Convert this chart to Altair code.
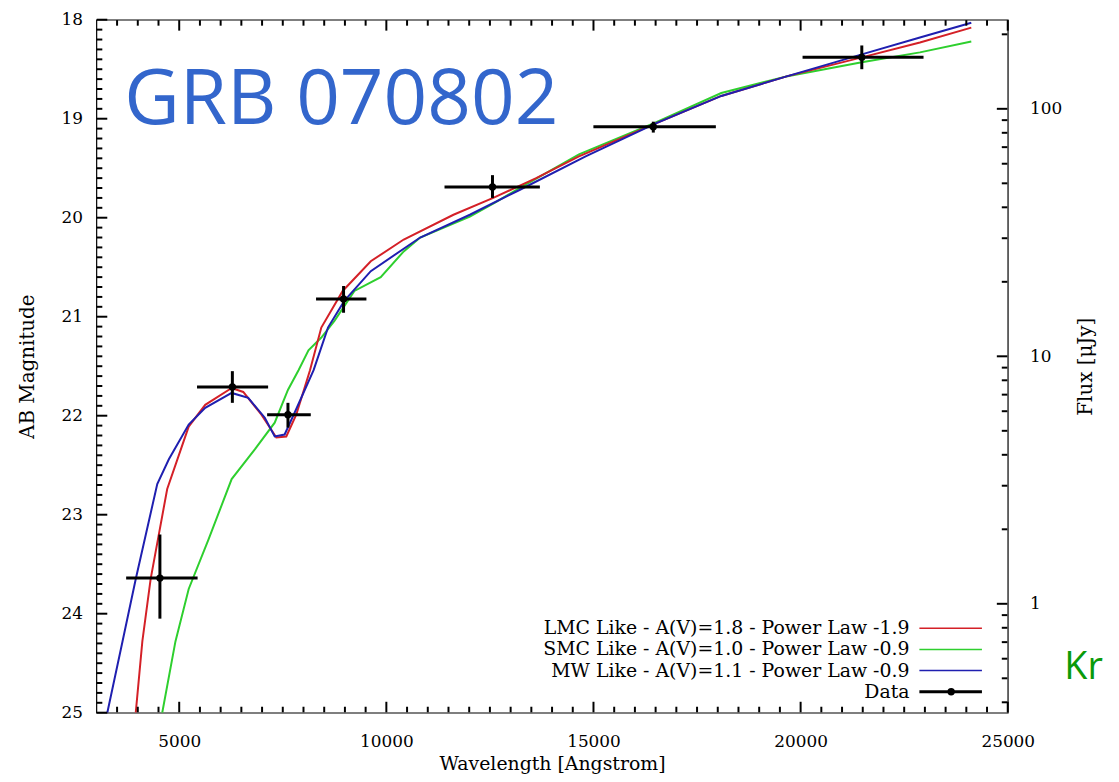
import altair as alt
import pandas as pd

# ---------------- data ----------------
# Model curves (wavelength in Angstrom, AB magnitude)
lmc_wl = [3951, 4110, 4310, 4710, 5229, 5628, 6266, 6546, 6985, 7345, 7585, 7825, 8157, 8430,
          8946, 9624, 10420, 11620, 12580, 13617, 14650, 16490, 18085, 19684, 21477, 22880, 24120]
lmc_mag = [25.0, 24.28, 23.65, 22.74, 22.11, 21.89, 21.72, 21.76, 21.99, 22.22, 22.21, 21.99, 21.54, 21.11,
           20.74, 20.44, 20.22, 19.97, 19.80, 19.60, 19.38, 19.05, 18.77, 18.57, 18.38, 18.23, 18.08]

smc_wl = [4590, 4909, 5229, 5708, 6266, 6825, 7305, 7624, 7880, 8120, 8431, 8751, 9229, 9864,
          10420, 10817, 12016, 12654, 13214, 14650, 16490, 18085, 19684, 21477, 22880, 24120]
smc_mag = [25.0, 24.28, 23.75, 23.25, 22.64, 22.34, 22.07, 21.74, 21.54, 21.34, 21.21, 21.04, 20.74, 20.60,
           20.34, 20.20, 19.99, 19.84, 19.70, 19.36, 19.04, 18.74, 18.57, 18.43, 18.33, 18.22]

mw_wl = [3264, 3631, 3951, 4470, 4750, 5229, 5628, 6266, 6666, 7066, 7305, 7545, 7785, 8244,
         8591, 8985, 9624, 10817, 12016, 13214, 14810, 16490, 18085, 19684, 21477, 22880, 24120]
mw_mag = [25.0, 24.28, 23.65, 22.69, 22.44, 22.09, 21.92, 21.77, 21.82, 22.02, 22.21, 22.19, 21.97, 21.54,
          21.11, 20.84, 20.54, 20.20, 19.97, 19.72, 19.38, 19.05, 18.77, 18.57, 18.35, 18.18, 18.03]

# Photometric data points
pt_wl = [4534, 6283, 7625, 8967, 12562, 16444, 21477]
pt_mag = [23.64, 21.71, 21.99, 20.82, 19.69, 19.08, 18.38]
pt_wl_lo = [3719, 5430, 7122, 8303, 11404, 14998, 20047]
pt_wl_hi = [5444, 7146, 8176, 9519, 13706, 17954, 22967]
pt_mag_lo = [23.20, 21.55, 21.87, 20.69, 19.57, 19.03, 18.26]
pt_mag_hi = [24.05, 21.87, 22.12, 20.96, 19.80, 19.14, 18.50]

legend_labels = ["LMC Like - A(V)=1.8 - Power Law -1.9",
                 "SMC Like - A(V)=1.0 - Power Law -0.9",
                 "MW Like - A(V)=1.1 - Power Law -0.9",
                 "Data"]
series_colors = ["#d42027", "#2ecf2e", "#1f1fb0", "black"]

x_major = [5000, 10000, 15000, 20000, 25000]
x_minor = [v for v in range(3500, 25000, 500) if v % 5000]
y_major = [18, 19, 20, 21, 22, 23, 24, 25]
y_minor = [round(18 + i / 10, 1) for i in range(1, 70) if i % 10]
f_major = [1, 10, 100]
f_minor = [0.4, 0.5, 0.6, 0.7, 0.8, 0.9, 2, 3, 4, 5, 6, 7, 8, 9,
           20, 30, 40, 50, 60, 70, 80, 90, 200]

title_text = "GRB 070802"
corner_text = "Kr"

# ---------------- layout / styles ----------------
W, H = 918, 698
SERIF = "DejaVu Serif"
FS = 17
TFS = 19
XDOM = [3000, 25000]
YDOM = [18, 25]
ZP = 23.9  # AB zero point for micro-Jansky


def to_flux(m):
    return 10 ** ((ZP - m) / 2.5)


FDOM = [to_flux(YDOM[1]), to_flux(YDOM[0])]
MAJ, MIN = 11, 6
TICKW = 2
px2mag = (YDOM[1] - YDOM[0]) / H
px2wl = (XDOM[1] - XDOM[0]) / W
EDGE = 0.4  # px: keep the outer tick end a hair inside the frame

xs = alt.Scale(domain=XDOM, nice=False, zero=False)
ys = alt.Scale(domain=YDOM, nice=False, zero=False, reverse=True)
fsc = alt.Scale(type="log", domain=FDOM, nice=False)

pts = pd.DataFrame({"wl": pt_wl, "mag": pt_mag, "wl_lo": pt_wl_lo, "wl_hi": pt_wl_hi,
                    "mag_lo": pt_mag_lo, "mag_hi": pt_mag_hi})
pts["flux"] = to_flux(pts["mag"])

x_lab = alt.Axis(orient="bottom", values=x_major, ticks=False, tickSize=0, domain=False, grid=False,
                 labelPadding=21, labelFont=SERIF, labelFontSize=FS, labelColor="black",
                 labelFlush=False, format="d",
                 title="Wavelength [Angstrom]", titleFont=SERIF, titleFontSize=TFS,
                 titleFontWeight="normal", titleColor="black", titlePadding=5)
y_lab = alt.Axis(orient="left", values=y_major, ticks=False, tickSize=0, domain=False, grid=False,
                 labelPadding=14, labelFont=SERIF, labelFontSize=FS, labelColor="black",
                 format="d",
                 title="AB Magnitude", titleFont=SERIF, titleFontSize=20, titleFontWeight="normal",
                 titleColor="black", titlePadding=24)
f_lab = alt.Axis(orient="right", values=f_major, ticks=False, tickSize=0, domain=False, grid=False,
                 labelPadding=22, labelFont=SERIF, labelFontSize=FS, labelColor="black",
                 format="~g",
                 title="Flux [\u03bcJy]", titleFont=SERIF, titleFontSize=20, titleAngle=270,
                 titleFontWeight="normal", titleColor="black", titlePadding=34)


def curve(wl, mag, color, xaxis, yaxis):
    df = pd.DataFrame({"wl": wl, "mag": mag})
    return alt.Chart(df).mark_line(color=color, strokeWidth=2, clip=True).encode(
        x=alt.X("wl:Q", scale=xs, axis=xaxis),
        y=alt.Y("mag:Q", scale=ys, axis=yaxis),
        order="wl:Q",
    )


green = curve(smc_wl, smc_mag, series_colors[1], x_lab, y_lab)
red = curve(lmc_wl, lmc_mag, series_colors[0], None, None)
blue = curve(mw_wl, mw_mag, series_colors[2], None, None)

flux_axis = alt.Chart(pts).mark_point(opacity=0).encode(
    x=alt.X("wl:Q", scale=xs, axis=None),
    y=alt.Y("flux:Q", scale=fsc, axis=f_lab))


# ---- inward tick marks on all four sides (positioned through the flux scale,
#      which is the magnitude scale expressed in micro-Jansky) ----
def xticks(values, length, top, tag):
    n = len(values)
    if top:
        m_in, m_edge = YDOM[0] + length * px2mag, YDOM[0] + EDGE * px2mag
    else:
        m_in, m_edge = YDOM[1] - length * px2mag, YDOM[1] - EDGE * px2mag
    df = pd.DataFrame({tag + "_x": [float(v) for v in values],
                       tag + "_y1": [to_flux(m_in)] * n,
                       tag + "_y2": [to_flux(m_edge)] * n})
    return alt.Chart(df).mark_rule(color="black", strokeWidth=TICKW).encode(
        x=alt.X(tag + "_x:Q", scale=xs, axis=None),
        y=alt.Y(tag + "_y1:Q", scale=fsc, axis=None), y2=tag + "_y2:Q")


def yticks(fvalues, length, right, tag):
    n = len(fvalues)
    if right:
        w_in, w_edge = XDOM[1] - length * px2wl, XDOM[1] - EDGE * px2wl
    else:
        w_in, w_edge = XDOM[0] + length * px2wl, XDOM[0] + EDGE * px2wl
    df = pd.DataFrame({tag + "_y": [float(v) for v in fvalues],
                       tag + "_x1": [float(w_in)] * n,
                       tag + "_x2": [float(w_edge)] * n})
    return alt.Chart(df).mark_rule(color="black", strokeWidth=TICKW).encode(
        x=alt.X(tag + "_x1:Q", scale=xs, axis=None), x2=tag + "_x2:Q",
        y=alt.Y(tag + "_y:Q", scale=fsc, axis=None))


tick_layers = [
    xticks(x_major, MAJ, False, "bM"), xticks(x_minor, MIN, False, "bm"),
    xticks(x_major, MAJ, True, "tM"), xticks(x_minor, MIN, True, "tm"),
    yticks([to_flux(v) for v in y_major], MAJ, False, "lM"),
    yticks([to_flux(v) for v in y_minor], MIN, False, "lm"),
    yticks(f_major, MAJ, True, "rM"), yticks(f_minor, MIN, True, "rm"),
]

xbars = alt.Chart(pts).mark_rule(color="black", strokeWidth=3).encode(
    x=alt.X("wl_lo:Q", scale=xs, axis=None), x2="wl_hi:Q",
    y=alt.Y("mag:Q", scale=ys, axis=None))
ybars = alt.Chart(pts).mark_rule(color="black", strokeWidth=3).encode(
    x=alt.X("wl:Q", scale=xs, axis=None),
    y=alt.Y("mag_lo:Q", scale=ys, axis=None), y2="mag_hi:Q")
dots = alt.Chart(pts).mark_point(filled=True, color="black", size=55, opacity=1, shape="circle").encode(
    x=alt.X("wl:Q", scale=xs, axis=None),
    y=alt.Y("mag:Q", scale=ys, axis=None))

# ---- legend (bottom right inside the frame) ----
row_top = 613   # px from top of plot area for first row
row_step = 21.3
leg = pd.DataFrame({
    "label": legend_labels,
    "color": series_colors,
    "row": list(range(len(legend_labels))),
})
leg["y"] = YDOM[0] + (row_top + leg["row"] * row_step) * px2mag
leg["xt"] = XDOM[0] + 819 * px2wl
leg["x1"] = XDOM[0] + 829 * px2wl
leg["x2"] = XDOM[0] + 892 * px2wl
leg["xm"] = XDOM[0] + 861 * px2wl
leg["w"] = [1.5, 1.5, 1.5, 3]

leg_text = alt.Chart(leg).mark_text(align="right", baseline="middle", font=SERIF, fontSize=19,
                                    color="black").encode(
    x=alt.X("xt:Q", scale=xs, axis=None),
    y=alt.Y("y:Q", scale=ys, axis=None),
    text="label:N")
leg_lines = alt.Chart(leg).mark_rule().encode(
    x=alt.X("x1:Q", scale=xs, axis=None), x2="x2:Q",
    y=alt.Y("y:Q", scale=ys, axis=None),
    color=alt.Color("color:N", scale=None),
    strokeWidth=alt.StrokeWidth("w:Q", scale=None))
leg_dot = alt.Chart(leg[leg["label"] == "Data"]).mark_point(filled=True, color="black", size=55,
                                                           opacity=1).encode(
    x=alt.X("xm:Q", scale=xs, axis=None),
    y=alt.Y("y:Q", scale=ys, axis=None))

title_mark = alt.Chart(pd.DataFrame({"t": [title_text]})).mark_text(
    align="left", baseline="alphabetic", font="Open Sans", fontSize=77, fontWeight=500,
    color="#3366cc").encode(x=alt.value(28), y=alt.value(105), text="t:N")
corner_mark = alt.Chart(pd.DataFrame({"t": [corner_text]})).mark_text(
    align="left", baseline="alphabetic", font="Open Sans", fontSize=38,
    color="#0a9a0a").encode(x=alt.value(975), y=alt.value(664), text="t:N")

chart = alt.layer(
    flux_axis,
    green, red, blue,
    *tick_layers,
    xbars, ybars, dots,
    leg_text, leg_lines, leg_dot,
    title_mark, corner_mark,
).resolve_scale(y="independent").resolve_axis(x="independent", y="independent").properties(
    width=W, height=H,
    padding={"left": 89, "top": 9, "right": 104, "bottom": 67},
    autosize=alt.AutoSizeParams(type="none"),
    background="white",
).configure_view(stroke="black", strokeWidth=1.2)

chart.save("out.html", embed_options={"renderer": "svg", "actions": False})
